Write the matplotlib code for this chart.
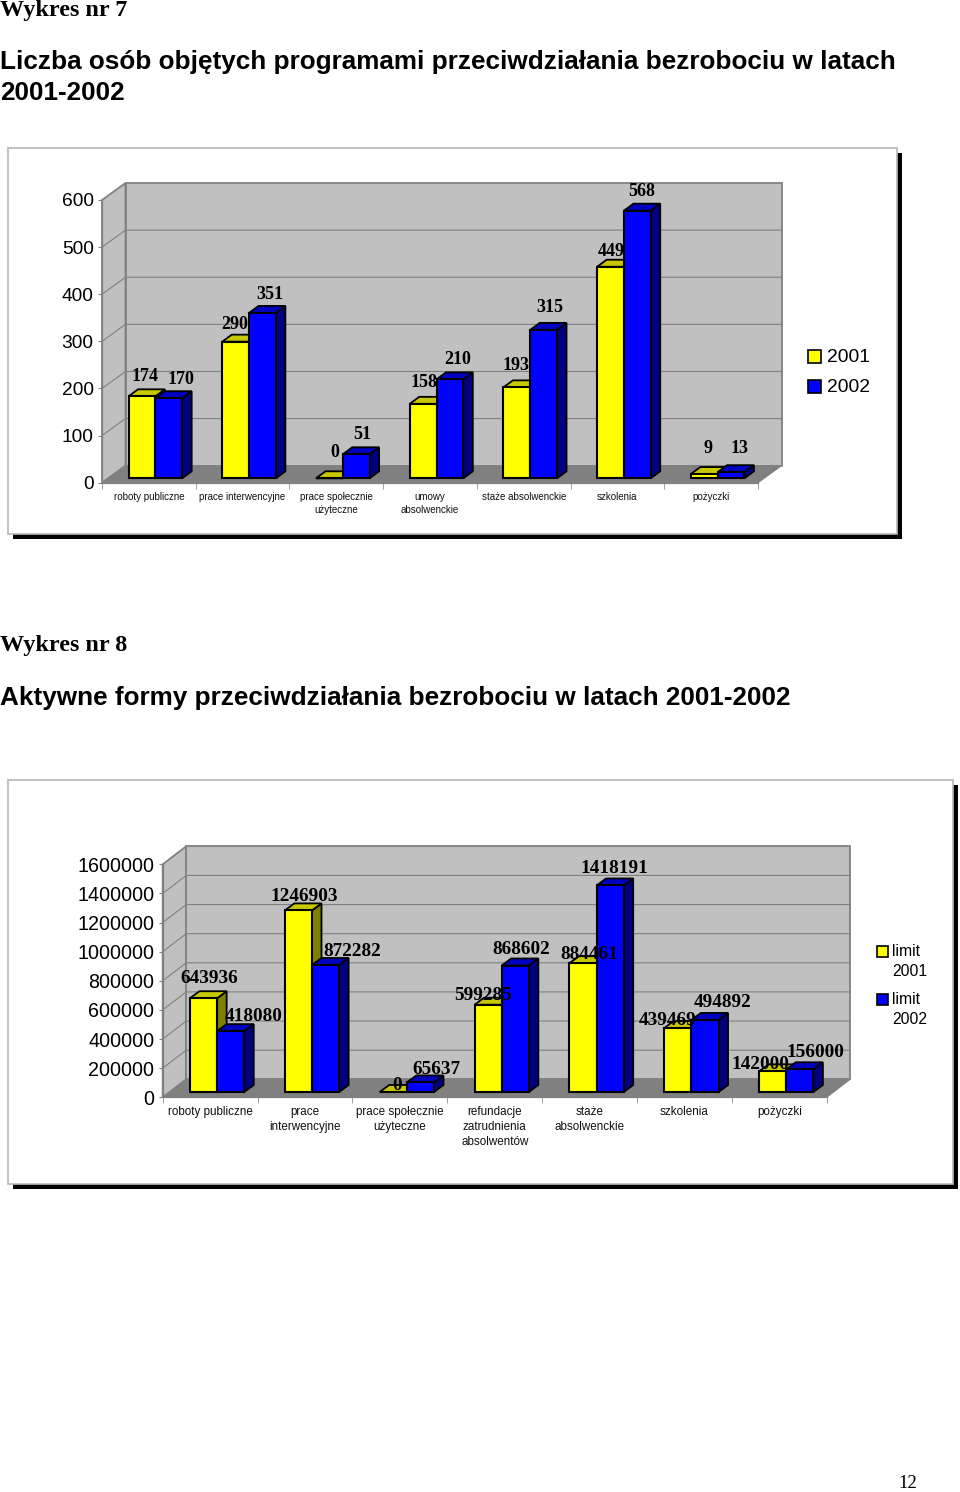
import matplotlib
matplotlib.use("Agg")
import matplotlib.pyplot as plt
from matplotlib.patches import Polygon, Rectangle

SANS = "Liberation Sans"
SERIF = "Liberation Serif"

# Chart 7 data
cats_7 = ["roboty publiczne", "prace interwencyjne", "prace społecznie\nużyteczne",
          "umowy\nabsolwenckie", "staże absolwenckie", "szkolenia", "pożyczki"]
vals_7_2001 = [174, 290, 0, 158, 193, 449, 9]
vals_7_2002 = [170, 351, 51, 210, 315, 568, 13]
ticks_7 = [0, 100, 200, 300, 400, 500, 600]

# Chart 8 data
cats_8 = ["roboty publiczne", "prace\ninterwencyjne", "prace społecznie\nużyteczne",
          "refundacje\nzatrudnienia\nabsolwentów", "staże\nabsolwenckie", "szkolenia", "pożyczki"]
vals_8_2001 = [643936, 1246903, 0, 599285, 884461, 439469, 142000]
vals_8_2002 = [418080, 872282, 65637, 868602, 1418191, 494892, 156000]
ticks_8 = [0, 200000, 400000, 600000, 800000, 1000000, 1200000, 1400000, 1600000]

# label offsets in pixels from the top of each bar, they are placed by hand in the original
off_7_2001 = [(3, 20), (-1, 17), (5, 26), (1, 21), (-1, 22), (0.5, 15.5), (4, 26)]
off_7_2002 = [(12, 19), (7.5, 18.5), (6, 20), (8, 20), (6, 22.5), (4, 19), (8, 24)]
off_8_2001 = [(5.6, 20), (5.7, 14), (3.9, 6), (-5, 9), (6, 9), (-10.7, 8), (-12.6, 7)]
off_8_2002 = [(23.2, 15), (26.3, 13), (16.5, 13), (5.6, 16), (3.8, 16.5), (18, 17), (16, 17)]

YELLOW = ("#ffff00", "#808000", "#c8c800")
BLUE = ("#0000ff", "#000080", "#0000c0")
WALL = "#c0c0c0"
FLOOR = "#808080"
GRID = "#808080"

W, H = 960, 1492
fig = plt.figure(figsize=(W / 100, H / 100), dpi=100, facecolor="white")

# page layer in pixel coordinates: headings, frames, legends
page = fig.add_axes([0, 0, 1, 1])
page.set_xlim(0, W)
page.set_ylim(H, 0)
page.axis("off")


def heading(x, y, s, family, size, weight="bold"):
    page.text(x, y, s, family=family, fontsize=size, fontweight=weight, va="center", ha="left", color="black")


heading(0, 10.5, "Wykres nr 7", SERIF, 17.4)
heading(0, 62.5, "Liczba osób objętych programami przeciwdziałania bezrobociu w latach", SANS, 18.8)
heading(0, 92.5, "2001-2002", SANS, 18.8)
heading(0, 645, "Wykres nr 8", SERIF, 17.4)
heading(0, 697.5, "Aktywne formy przeciwdziałania bezrobociu w latach 2001-2002", SANS, 18.8)
page.text(908, 1483, "12", family=SERIF, fontsize=13.5, ha="center", va="center")


def frame(x0, y0, x1, y1):
    # black drop shadow first, then the white box with its light border
    page.add_patch(Rectangle((x0 + 4.5, y0 + 4.5), x1 - x0, y1 - y0, fc="black", ec="none"))
    page.add_patch(Rectangle((x0, y0), x1 - x0, y1 - y0, fc="white", ec="#b8b8b8", lw=1.2))


frame(8, 148, 897, 534)
frame(8, 780, 953, 1184)


def legend(x, ys, labels, size, box, gap, line_h, text_dy):
    for y, lab, col in zip(ys, labels, (YELLOW[0], BLUE[0])):
        page.add_patch(Rectangle((x, y), box, box, fc=col, ec="black", lw=1.2))
        for k, part in enumerate(lab.split("\n")):
            page.text(x + box + gap, y + box / 2 + text_dy + k * line_h, part, family=SANS, fontsize=size,
                      ha="left", va="center")


legend(808, [350, 380], ["2001", "2002"], 13.9, 13, 5.5, 0, 1)
legend(877, [946, 994], ["limit\n2001", "limit\n2002"], 11.3, 11, 4, 20, 0)


def chart(px_box, cats, s1, s2, ticks, off1, off2, tick_size, cat_size, lab_size, wall_d, bar_shift, linesp):
    left, top, right, bottom = px_box
    ax = fig.add_axes([left / W, 1 - bottom / H, (right - left) / W, (bottom - top) / H])
    n = len(cats)
    ymax = ticks[-1]
    ax.set_xlim(0, n)
    ax.set_ylim(0, ymax)
    ax.patch.set_visible(False)

    ux = n / (right - left)
    uy = ymax / (bottom - top)
    dx, dy = wall_d[0] * ux, wall_d[1] * uy

    # walls and floor
    ax.add_patch(Polygon([(0, 0), (dx, dy), (dx, ymax + dy), (0, ymax)], fc=WALL, ec=GRID, lw=1.3, clip_on=False, zorder=1))
    ax.add_patch(Polygon([(dx, dy), (n + dx, dy), (n + dx, ymax + dy), (dx, ymax + dy)], fc=WALL, ec=GRID, lw=1.3, clip_on=False, zorder=1))
    ax.add_patch(Polygon([(0, 0), (n, 0), (n + dx, dy), (dx, dy)], fc=FLOOR, ec=FLOOR, lw=0.8, clip_on=False, zorder=2))
    ax.add_patch(Polygon([(n, 0), (n + dx, dy), (n + dx, 0)], fc="white", ec="none", clip_on=False, zorder=2))
    ax.plot([n, n + dx], [0, dy], color=GRID, lw=0.8, clip_on=False, zorder=2)
    for t in ticks[1:-1]:
        ax.plot([0, dx, n + dx], [t, t + dy, t + dy], color=GRID, lw=0.8, clip_on=False, zorder=1.5)

    # bars, left to right so the next front face covers the previous side
    bar_w = 0.286
    sx, sy = bar_shift[0] * ux, bar_shift[1] * uy
    bx, by = 9.5 * ux, 7 * uy
    z = 3
    for i in range(n):
        for j, (v, cols) in enumerate(((s1[i], YELLOW), (s2[i], BLUE))):
            x0 = i + 0.5 + sx - bar_w + j * bar_w
            x1 = x0 + bar_w
            y1 = sy + v
            ax.add_patch(Polygon([(x1, sy), (x1 + bx, sy + by), (x1 + bx, y1 + by), (x1, y1)], fc=cols[1], ec="black", lw=1.3, zorder=z, clip_on=False))
            ax.add_patch(Polygon([(x0, y1), (x0 + bx, y1 + by), (x1 + bx, y1 + by), (x1, y1)], fc=cols[2], ec="black", lw=1.3, zorder=z, clip_on=False))
            ax.bar(x0, v, bar_w, bottom=sy, align="edge", color=cols[0], ec="black", lw=1.5, zorder=z, clip_on=False)
            z += 0.01

    # data labels sit on top of everything
    for j, (vals, offs) in enumerate(((s1, off1), (s2, off2))):
        for i, (v, o) in enumerate(zip(vals, offs)):
            xc = i + 0.5 + sx - bar_w + j * bar_w + bar_w / 2
            ax.annotate(str(v), xy=(xc, sy + v), xytext=o, textcoords="offset pixels", ha="center", va="center",
                        family=SERIF, fontweight="bold", fontsize=lab_size, color="black", zorder=10, annotation_clip=False)

    for s in ("top", "right"):
        ax.spines[s].set_visible(False)
    for s in ("left", "bottom"):
        ax.spines[s].set_color(GRID)
        ax.spines[s].set_linewidth(0.9)
        ax.spines[s].set_zorder(2.5)

    ax.set_yticks(ticks)
    ax.set_yticklabels([str(t) for t in ticks], family=SANS, fontsize=tick_size)
    ax.tick_params(axis="y", length=3, width=0.8, color=GRID, pad=3)
    ax.set_xticks([i + 0.5 for i in range(n)])
    ax.set_xticklabels(cats, family=SANS, fontsize=cat_size, linespacing=linesp, color="#111111")
    ax.set_xticks(range(n + 1), minor=True)
    ax.tick_params(axis="x", which="major", length=0, pad=6.5)
    ax.tick_params(axis="x", which="minor", length=4, width=0.7, color="#a0a0a0")
    return ax


chart((102, 200, 758, 482.7), cats_7, vals_7_2001, vals_7_2002, ticks_7, off_7_2001, off_7_2002,
      13.8, 7, 13, (23.5, 17), (6.5, 4.4), 1.45)
chart((162.7, 864.3, 826.7, 1097.3), cats_8, vals_8_2001, vals_8_2002, ticks_8, off_8_2001, off_8_2002,
      14.2, 8.4, 13.9, (23.5, 18), (7, 5.3), 1.3)

fig.savefig("out.png", dpi=100)
